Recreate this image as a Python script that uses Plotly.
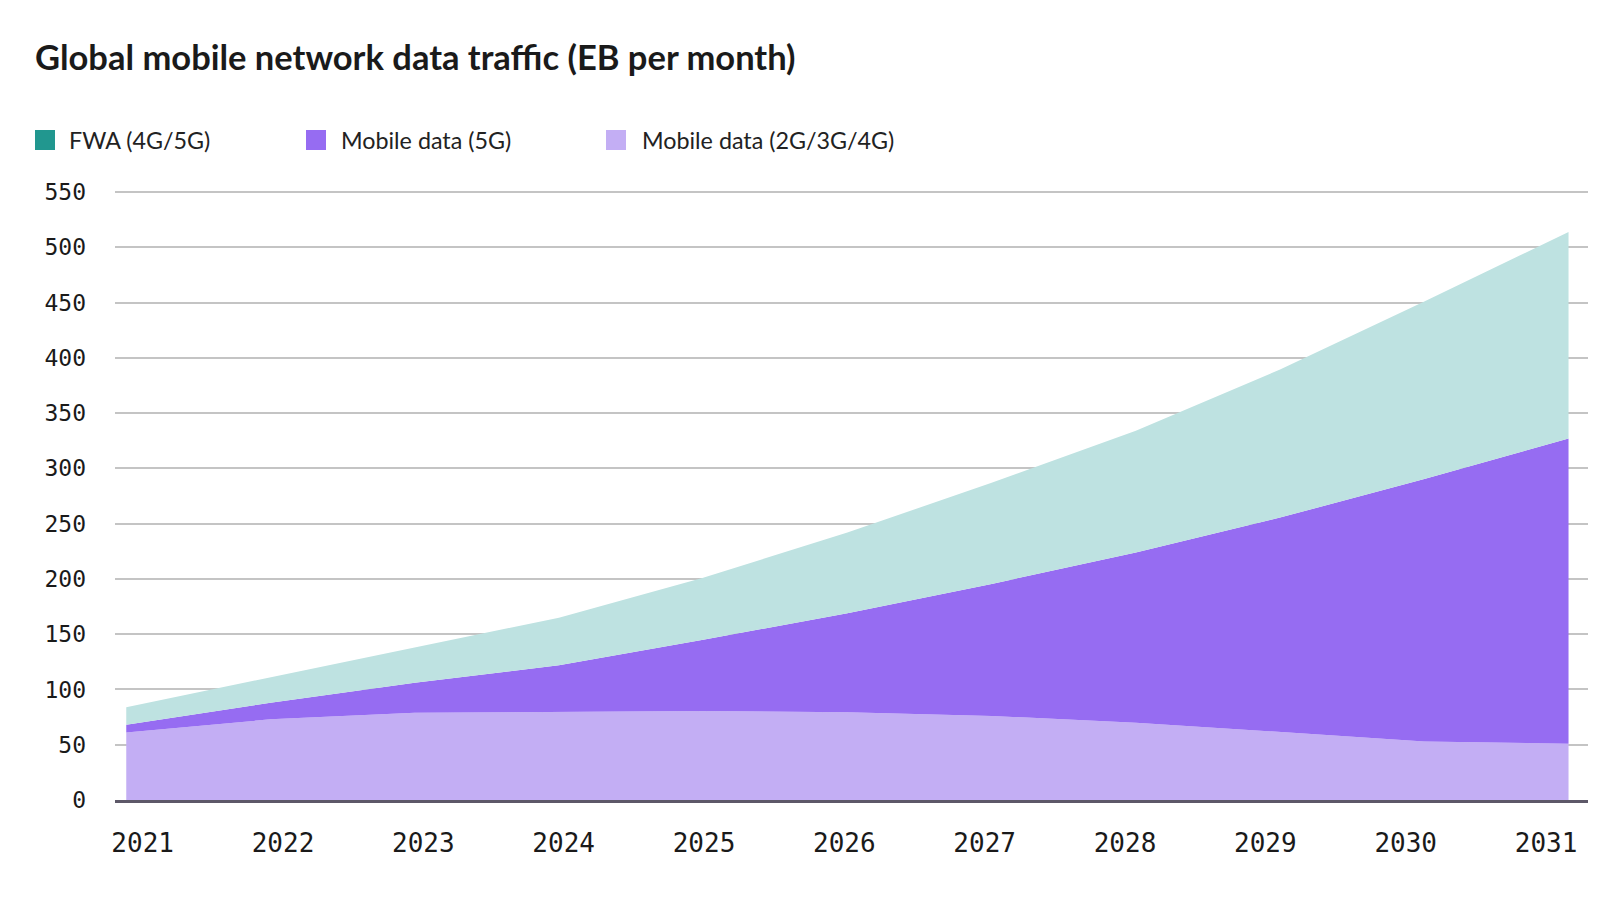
import plotly.graph_objects as go

# ---------------- data (EB per month) ----------------
years = [2021, 2022, 2023, 2024, 2025, 2026, 2027, 2028, 2029, 2030, 2031]
mobile_legacy = [61, 73, 79, 80, 80.5, 79.5, 76, 70, 61.5, 53, 51]          # Mobile data (2G/3G/4G)
mobile_5g = [7, 15, 27, 42, 64.5, 89.5, 119.5, 154, 194, 237.5, 276]        # Mobile data (5G)
fwa = [16, 23, 32, 43, 56, 73, 91.5, 110, 134, 160.5, 187]                  # FWA (4G/5G)
y_ticks = [0, 50, 100, 150, 200, 250, 300, 350, 400, 450, 500, 550]
x_tick_labels = [str(y) for y in years]

series_names = ["FWA (4G/5G)", "Mobile data (5G)", "Mobile data (2G/3G/4G)"]
swatch_colors = ["#21978f", "#966cf2", "#c3aef4"]

# ---------------- layout geometry ----------------
W, H = 1600, 900
L, R, T, B = 115, 12, 191, 100
PW, PH = W - L - R, H - T - B


def px_x(px):
    return (px - L) / PW


def px_y(py):
    return (H - B - py) / PH


fig = go.Figure()
fig.add_trace(go.Scatter(x=years, y=mobile_legacy, name=series_names[2], stackgroup="one",
                         mode="lines", line=dict(width=0), fillcolor="#c3aef4", hoverinfo="x+y"))
fig.add_trace(go.Scatter(x=years, y=mobile_5g, name=series_names[1], stackgroup="one",
                         mode="lines", line=dict(width=0), fillcolor="#966cf2", hoverinfo="x+y"))
fig.add_trace(go.Scatter(x=years, y=fwa, name=series_names[0], stackgroup="one",
                         mode="lines", line=dict(width=0), fillcolor="#bee2e1", hoverinfo="x+y"))
# empty trace that only activates the label axis (x2) so its year labels are drawn
fig.add_trace(go.Scatter(x=years, y=[None] * len(years), xaxis="x2", yaxis="y",
                         mode="lines", hoverinfo="skip", showlegend=False))

# ---------------- manual legend ----------------
legend_swatch_x = [35, 306, 606]
legend_text_x = [67, 339, 640]
legend_y = 140
shapes = []
annotations = []
for name, col, sx, tx in zip(series_names, swatch_colors, legend_swatch_x, legend_text_x):
    shapes.append(dict(type="rect", xref="paper", yref="paper",
                       x0=px_x(sx), x1=px_x(sx + 20), y0=px_y(legend_y + 10), y1=px_y(legend_y - 10),
                       fillcolor=col, line=dict(width=0)))
    annotations.append(dict(text=name, xref="paper", yref="paper", x=px_x(tx), y=px_y(legend_y),
                            xanchor="left", yanchor="middle", showarrow=False,
                            font=dict(family="Lato", size=23.3, color="#222222")))

fig.update_layout(
    width=W, height=H,
    margin=dict(l=L, r=R, t=T, b=B),
    paper_bgcolor="white", plot_bgcolor="white",
    showlegend=False,
    title=dict(text="<b>Global mobile network data traffic (EB per month)</b>",
               x=35 / W, xanchor="left", xref="container",
               y=1 - 58 / H, yanchor="middle", yref="container",
               font=dict(family="Lato", size=34.5, color="#1a1a1a")),
    shapes=shapes,
    annotations=annotations,
    xaxis=dict(range=[2020.922, 2031.135], showticklabels=False, showgrid=False, zeroline=False,
               showline=True, linecolor="#5d5868", linewidth=2.5, ticks=""),
    xaxis2=dict(overlaying="x", anchor="y", side="bottom", range=[2020.803, 2031.299],
                tickmode="array", tickvals=years, ticktext=x_tick_labels,
                showgrid=False, zeroline=False, showline=False, ticks="",
                ticklabelstandoff=25,
                tickfont=dict(family="DejaVu Sans Mono", size=26, color="#1a1a1a")),
    yaxis=dict(range=[0, 551], tickmode="array", tickvals=y_ticks, showgrid=True,
               gridcolor="#c4c4c4", gridwidth=1.5, zeroline=False, ticks="",
               ticklabelstandoff=28,
               tickfont=dict(family="DejaVu Sans Mono", size=23, color="#1a1a1a")),
)

fig.write_html("out.html")
